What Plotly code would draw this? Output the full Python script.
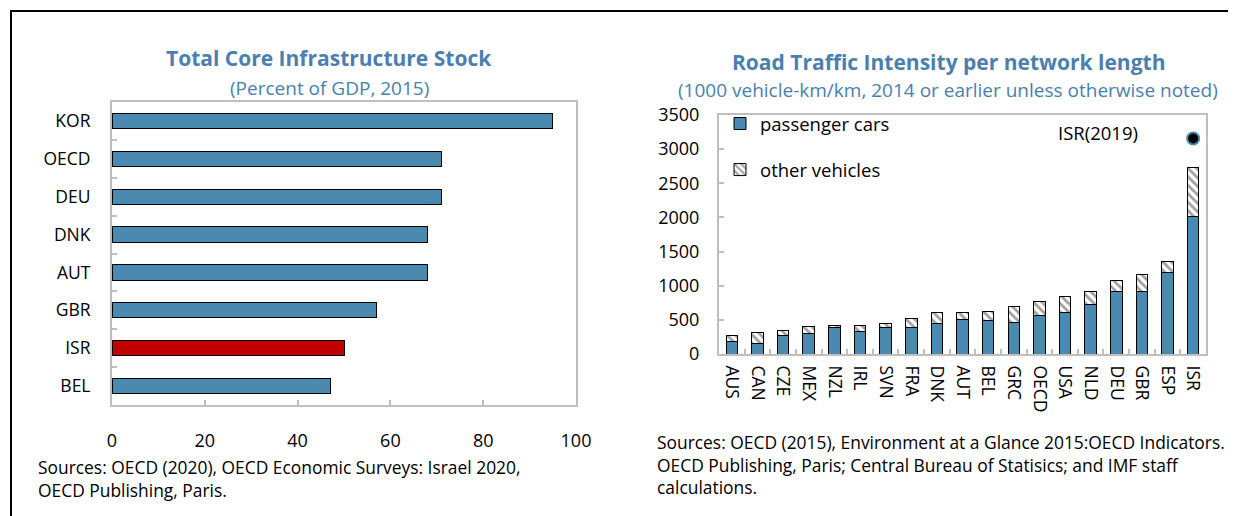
import plotly.graph_objects as go

# ---------- Data ----------
infra_countries = ["KOR", "OECD", "DEU", "DNK", "AUT", "GBR", "ISR", "BEL"]
infra_values = [95, 71, 71, 68, 68, 57, 50, 47]

road_countries = ["AUS", "CAN", "CZE", "MEX", "NZL", "IRL", "SVN", "FRA", "DNK", "AUT",
                  "BEL", "GRC", "OECD", "USA", "NLD", "DEU", "GBR", "ESP", "ISR"]
passenger_cars = [185, 151, 273, 297, 384, 336, 390, 394, 448, 506,
                  491, 462, 565, 608, 725, 920, 915, 1193, 2010]
road_total = [268, 317, 350, 404, 419, 423, 453, 526, 613, 613,
              623, 691, 769, 837, 915, 1080, 1163, 1348, 2735]
other_vehicles = [t - p for t, p in zip(road_total, passenger_cars)]
isr_2019_label = "ISR(2019)"
isr_2019_value = 3155

# ---------- Styling ----------
OFF = 8                      # page body margin
W, H = 1236 - OFF, 516 - OFF
BLUE = "#4a8ab0"
RED = "#c00000"
TITLE_BLUE = "#4a7fb0"
AXIS_GRAY = "#bfbfbf"
FONT = "Open Sans"


def px_x(p):
    return (p - OFF) / W


def px_y(p):
    return 1 - (p - OFF) / H


bar_colors = [RED if c == "ISR" else BLUE for c in infra_countries]

fig = go.Figure()

fig.add_trace(go.Bar(
    x=infra_values, y=infra_countries, orientation="h",
    marker=dict(color=bar_colors, line=dict(color="black", width=1)),
    width=0.4, showlegend=False, xaxis="x", yaxis="y",
))

fig.add_trace(go.Bar(
    x=road_countries, y=passenger_cars, name="passenger cars",
    marker=dict(color=BLUE, line=dict(color="black", width=1)),
    width=0.45, xaxis="x2", yaxis="y2", legendgroup="a",
))
fig.add_trace(go.Bar(
    x=road_countries, y=other_vehicles, name="other vehicles",
    marker=dict(color="white", line=dict(color="black", width=1),
                pattern=dict(shape="\\", fgcolor="#404040", bgcolor="white",
                             size=6, solidity=0.45)),
    width=0.45, xaxis="x2", yaxis="y2", legendgroup="b",
))
fig.add_trace(go.Scatter(
    x=["ISR"], y=[isr_2019_value], mode="markers",
    marker=dict(color="black", size=12, line=dict(color=BLUE, width=2)),
    showlegend=False, xaxis="x2", yaxis="y2",
))

numfont = dict(family=FONT, size=18, color="black")
catfont = dict(family=FONT, size=17.5, color="black")
common_axis = dict(
    showgrid=False, zeroline=False, automargin=False,
    showline=True, linecolor=AXIS_GRAY, linewidth=2, mirror=True,
    ticks="inside", ticklen=5, tickcolor=AXIS_GRAY, tickwidth=2,
)

fig.update_layout(
    width=W, height=H, autosize=False,
    margin=dict(l=0, r=0, t=0, b=0, pad=0),
    paper_bgcolor="white", plot_bgcolor="white",
    barmode="stack",
    font=dict(family=FONT, color="black"),
    xaxis=dict(
        common_axis,
        domain=[px_x(112), px_x(576)], anchor="y",
        range=[0, 100], tickvals=[0, 20, 40, 60, 80, 100],
        tickfont=numfont, ticklabelstandoff=18,
    ),
    yaxis=dict(
        common_axis,
        domain=[px_y(405), px_y(102)], anchor="x",
        type="category", categoryorder="array",
        categoryarray=infra_countries[::-1],
        tickson="boundaries", tickfont=catfont, ticklabelstandoff=16,
    ),
    xaxis2=dict(
        common_axis,
        domain=[px_x(719), px_x(1206)], anchor="y2",
        type="category", categoryorder="array", categoryarray=road_countries,
        range=[-0.5, len(road_countries) - 0.5],
        tickson="boundaries", tickangle=90, tickfont=catfont, ticklabelstandoff=6,
    ),
    yaxis2=dict(
        common_axis,
        domain=[px_y(354), px_y(115)], anchor="x2",
        range=[0, 3500], dtick=500,
        tickfont=numfont, ticklabelstandoff=14,
    ),
    legend=dict(
        x=px_x(720), y=px_y(105), xanchor="left", yanchor="top",
        bgcolor="rgba(0,0,0,0)", font=dict(family=FONT, size=18.5, color="black"),
        tracegroupgap=19, traceorder="grouped", itemwidth=30,
    ),
)

annotations = [
    dict(text="<b>Total Core Infrastructure Stock</b>", x=px_x(329), y=px_y(58),
         font=dict(family=FONT, size=21, color=TITLE_BLUE)),
    dict(text="(Percent of GDP, 2015)", x=px_x(329), y=px_y(88),
         font=dict(family=FONT, size=19, color=TITLE_BLUE)),
    dict(text="<b>Road Traffic Intensity per network length</b>", x=px_x(948), y=px_y(62),
         font=dict(family=FONT, size=21, color=TITLE_BLUE)),
    dict(text="(1000 vehicle-km/km, 2014 or earlier unless otherwise noted)",
         x=px_x(948), y=px_y(90),
         font=dict(family=FONT, size=19, color=TITLE_BLUE)),
    dict(text=isr_2019_label, x=px_x(1098), y=px_y(132),
         font=dict(family=FONT, size=18.5, color="black")),
    dict(text="Sources: OECD (2020), OECD Economic Surveys: Israel 2020,<br>OECD Publishing, Paris.",
         x=px_x(36), y=px_y(453), xanchor="left", yanchor="top", align="left",
         font=dict(family=FONT, size=17.4, color="black")),
    dict(text="Sources: OECD (2015), Environment at a Glance 2015:OECD Indicators.<br>"
              "OECD Publishing, Paris; Central Bureau of Statisics; and IMF staff<br>"
              "calculations.",
         x=px_x(655), y=px_y(428), xanchor="left", yanchor="top", align="left",
         font=dict(family=FONT, size=17.4, color="black")),
]
for a in annotations:
    a.setdefault("xanchor", "center")
    a.setdefault("yanchor", "middle")
    a.update(xref="paper", yref="paper", showarrow=False)
fig.update_layout(annotations=annotations)

fig.add_shape(type="rect", xref="paper", yref="paper",
              x0=px_x(11), x1=1.05, y0=-0.05, y1=px_y(11),
              line=dict(color="black", width=2), fillcolor="rgba(0,0,0,0)", layer="above")

fig.write_html("out.html")
